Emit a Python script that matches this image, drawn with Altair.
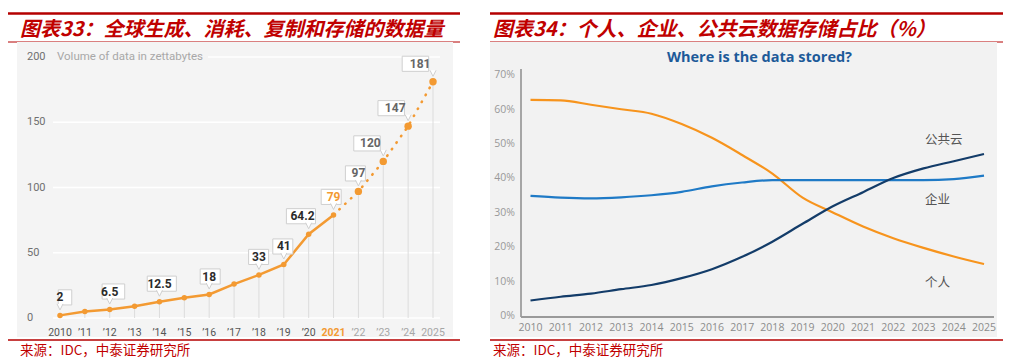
import altair as alt
import pandas as pd

# ---------------- Left panel: data volume (zettabytes) ----------------
years = list(range(2010, 2026))
year_labels = ["2010", "’11", "’12", "’13", "’14", "’15", "’16", "’17",
               "’18", "’19", "’20", "2021", "’22", "’23", "’24", "2025"]
volume = [2, 5, 6.5, 9, 12.5, 15.5, 18, 26, 33, 41, 64.2, 79, 97, 120, 147, 181]
callout_years = [2010, 2012, 2014, 2016, 2018, 2019, 2020, 2021, 2022, 2023, 2024, 2025]
callout_text = ["2", "6.5", "12.5", "18", "33", "41", "64.2", "79", "97", "120", "147", "181"]
left_ticks = [0, 50, 100, 150, 200]
left_tick_labels = ["0", "50", "100", "150", "200"]

# ---------------- Right panel: share of stored data (%) ----------------
years_r = list(range(2010, 2026))
personal = [62.8, 62.7, 61.4, 60.1, 58.8, 55.8, 51.8, 46.8, 41.4, 34.4, 30.1, 26.0, 22.6, 19.8, 17.3, 15.1]
enterprise = [34.9, 34.4, 34.2, 34.5, 35.1, 36.1, 37.7, 38.8, 39.5, 39.5, 39.5, 39.5, 39.5, 39.5, 39.8, 40.8]
public_cloud = [4.5, 5.6, 6.5, 7.8, 9.0, 11.0, 13.6, 17.2, 21.6, 26.8, 31.9, 36.0, 40.1, 42.9, 45.0, 47.1]
series_names = ["个人", "企业", "公共云"]
right_ticks = [0, 10, 20, 30, 40, 50, 60, 70]
right_tick_labels = ["0%", "10%", "20%", "30%", "40%", "50%", "60%", "70%"]

title_left = "图表33：全球生成、消耗、复制和存储的数据量"
title_right = "图表34：个人、企业、公共云数据存储占比（%）"
source_text = "来源：IDC，中泰证券研究所"
inner_title = "Where is the data stored?"
unit_text = "Volume of data in zettabytes"

# ---------------- styling ----------------
W, H = 995, 352
RED = "#b40000"
TITLE_RED = "#c00000"
ORANGE_L = "#f39a32"
CJK = "Noto Sans CJK SC"

XL = alt.Scale(domain=[2010, 2025], range=[52, 425], nice=False, zero=False)
YL = alt.Scale(domain=[0, 200], range=[310, 49], nice=False, zero=False)
XR = alt.Scale(domain=[2010, 2025], range=[522.5, 976], nice=False, zero=False)
YR = alt.Scale(domain=[0, 70], range=[308, 67.2], nice=False, zero=False)

one = alt.Chart(pd.DataFrame({"k": [0]}))


def hrule(x1, x2, y, color, w):
    return one.mark_rule(color=color, strokeWidth=w).encode(
        x=alt.value(x1), x2=alt.value(x2), y=alt.value(y))


def vrule(x, y1, y2, color, w):
    return one.mark_rule(color=color, strokeWidth=w).encode(
        x=alt.value(x), y=alt.value(y1), y2=alt.value(y2))


def box(x1, x2, y1, y2, color):
    return one.mark_rect(color=color).encode(
        x=alt.value(x1), x2=alt.value(x2), y=alt.value(y1), y2=alt.value(y2))


def txt(x, y, s, **kw):
    return one.mark_text(baseline="middle", **kw).encode(
        x=alt.value(x), y=alt.value(y), text=alt.value(s))


layers = []

# ---- frames / titles (both panels) ----
for (a, b, bg1, bg2, gcol, tx, ttl) in [
        (0, 452, 9, 445, "#f4f4f4", 12, title_left),
        (482, 995, 482, 989, "#f2f2f2", 485, title_right)]:
    layers.append(hrule(a, b, 5.5, RED, 2.5))
    layers.append(hrule(a, b, 34, RED, 1))
    layers.append(box(bg1, bg2, 34, 329, gcol))
    layers.append(hrule(a, b, 332, RED, 1.5))
    layers.append(txt(tx, 22, ttl, font=CJK, fontSize=20, fontStyle="italic", fontWeight="bold",
                      color=TITLE_RED, align="left"))
    layers.append(txt(tx, 343, source_text, font=CJK, fontSize=13.5,
                      color=TITLE_RED, align="left"))

# ---- left panel ----
dfL = pd.DataFrame({"year": years, "vol": volume, "xlab": year_labels})
dfT = pd.DataFrame({"tick": left_ticks, "lab": left_tick_labels})
vol_map = dict(zip(years, volume))
dfC = pd.DataFrame({"year": callout_years, "label": callout_text,
                    "vol": [vol_map[y] for y in callout_years]})

tl = alt.Chart(dfT)
layers.append(tl.transform_filter("datum.tick < 200").mark_rule(color="white", strokeWidth=1.5).encode(
    y=alt.Y("tick:Q", scale=YL, axis=None), x=alt.value(45), x2=alt.value(432)))
layers.append(tl.transform_filter("datum.tick == 200").mark_rule(color="white", strokeWidth=1.5).encode(
    y=alt.Y("tick:Q", scale=YL, axis=None), x=alt.value(200), x2=alt.value(432)))
layers.append(tl.mark_text(font="Roboto", fontSize=11, color="#707070", align="left", baseline="middle").encode(
    y=alt.Y("tick:Q", scale=YL, axis=None), x=alt.value(19), text="lab:N"))
layers.append(txt(49, 49, unit_text, font="Roboto", fontSize=11.5, color="#a8a8a8", align="left"))

bl = alt.Chart(dfL)
layers.append(bl.mark_rule(color="#dcdcdc", strokeWidth=1).encode(
    x=alt.X("year:Q", scale=XL, axis=None),
    y=alt.Y("vol:Q", scale=YL, axis=None), y2=alt.datum(0)))
layers.append(bl.transform_filter("datum.year <= 2021").mark_line(color=ORANGE_L, strokeWidth=2.5).encode(
    x=alt.X("year:Q", scale=XL, axis=None), y=alt.Y("vol:Q", scale=YL, axis=None)))
layers.append(bl.transform_filter("datum.year >= 2021").mark_line(
    color=ORANGE_L, strokeWidth=2.6, strokeDash=[0.5, 7.5], strokeCap="round").encode(
    x=alt.X("year:Q", scale=XL, axis=None), y=alt.Y("vol:Q", scale=YL, axis=None)))
layers.append(bl.transform_filter("datum.year <= 2021").mark_circle(color=ORANGE_L, size=30, opacity=1).encode(
    x=alt.X("year:Q", scale=XL, axis=None), y=alt.Y("vol:Q", scale=YL, axis=None)))
layers.append(bl.transform_filter("datum.year > 2021").mark_circle(color=ORANGE_L, size=55, opacity=1).encode(
    x=alt.X("year:Q", scale=XL, axis=None), y=alt.Y("vol:Q", scale=YL, axis=None)))

# x labels (left)
for cond, col, wt in [("datum.year < 2021", "#555555", "normal"),
                      ("datum.year == 2021", ORANGE_L, "bold"),
                      ("datum.year > 2021", "#a6a6a6", "normal")]:
    layers.append(bl.transform_filter(cond).mark_text(
        font="Roboto", fontSize=10.5, color=col, fontWeight=wt, baseline="middle").encode(
        x=alt.X("year:Q", scale=XL, axis=None), y=alt.value(325), text="xlab:N"))

# callout boxes
cl = alt.Chart(dfC).transform_calculate(
    bx="datum.year >= 2023 ? datum.year - 0.52 : (datum.year == 2020 ? datum.year - 0.25 : datum.year)",
    btop="datum.vol + 19.6",
    bbot="datum.vol + 8.0",
    tcy="datum.vol + 13.8",
    ty="datum.vol + 6.5",
    bw="6.5 * (length(datum.label) - (indexof(datum.label, '.') >= 0 ? 0.6 : 0)) + 7",
    tcolor=f"datum.year == 2021 ? '{ORANGE_L}' : (datum.year > 2021 ? '#666666' : '#2b2b2b')",
)
layers.append(cl.mark_bar(fill="white", stroke="#cfcfcf", strokeWidth=1).encode(
    x=alt.X("bx:Q", scale=XL, axis=None),
    y=alt.Y("btop:Q", scale=YL, axis=None), y2="bbot:Q",
    size=alt.Size("bw:Q", scale=None, legend=None)))
layers.append(cl.mark_point(shape="M-1,-1L0,1L1,-1", size=36, filled=True, fill="white",
                            stroke="#cfcfcf", strokeWidth=1, opacity=1).encode(
    x=alt.X("year:Q", scale=XL, axis=None), y=alt.Y("ty:Q", scale=YL, axis=None)))
layers.append(cl.mark_text(font="Roboto", fontSize=12, fontWeight="bold", baseline="middle").encode(
    x=alt.X("bx:Q", scale=XL, axis=None), y=alt.Y("tcy:Q", scale=YL, axis=None),
    text="label:N", color=alt.Color("tcolor:N", scale=None, legend=None)))

# ---- right panel ----
layers.append(txt(751.5, 50, inner_title, font="Open Sans", fontSize=14.5, fontWeight="bold",
                  color="#1d5a99", align="center"))
layers.append(vrule(513, 61, 309, "#8c8c8c", 1.5))
layers.append(hrule(513, 986, 309, "#9a9a9a", 2))

dfR = pd.DataFrame({
    "year": years_r * 3,
    "share": personal + enterprise + public_cloud,
    "series": [series_names[0]] * 16 + [series_names[1]] * 16 + [series_names[2]] * 16,
})
layers.append(alt.Chart(dfR).mark_line(strokeWidth=2.2, interpolate="monotone").encode(
    x=alt.X("year:Q", scale=XR, axis=None),
    y=alt.Y("share:Q", scale=YR, axis=None),
    color=alt.Color("series:N", scale=alt.Scale(domain=series_names,
                                                range=["#f7941d", "#1f7ac6", "#133c69"]), legend=None)))

dfRT = pd.DataFrame({"tick": right_ticks, "lab": right_tick_labels})
layers.append(alt.Chart(dfRT).mark_text(font="Open Sans", fontSize=10.5, color="#999999",
                                        align="right", baseline="middle").encode(
    y=alt.Y("tick:Q", scale=YR, axis=None), x=alt.value(507), text="lab:N"))
dfRX = pd.DataFrame({"year": years_r, "lab": [str(y) for y in years_r]})
layers.append(alt.Chart(dfRX).mark_text(font="Open Sans", fontSize=10.5, color="#8c8c8c",
                                        baseline="middle").encode(
    x=alt.X("year:Q", scale=XR, axis=None), y=alt.value(320), text="lab:N"))

for name, yy in [("公共云", 132), ("企业", 192), ("个人", 275)]:
    layers.append(txt(917, yy, name, font=CJK, fontSize=12.5, color="#555555", align="left"))

chart = alt.layer(*layers).resolve_scale(
    x="independent", y="independent"
).properties(
    width=W, height=H, padding=0, autosize=alt.AutoSizeParams(type="none")
).configure_view(strokeWidth=0)

chart.save("out.html", embed_options={"renderer": "svg", "actions": False})
